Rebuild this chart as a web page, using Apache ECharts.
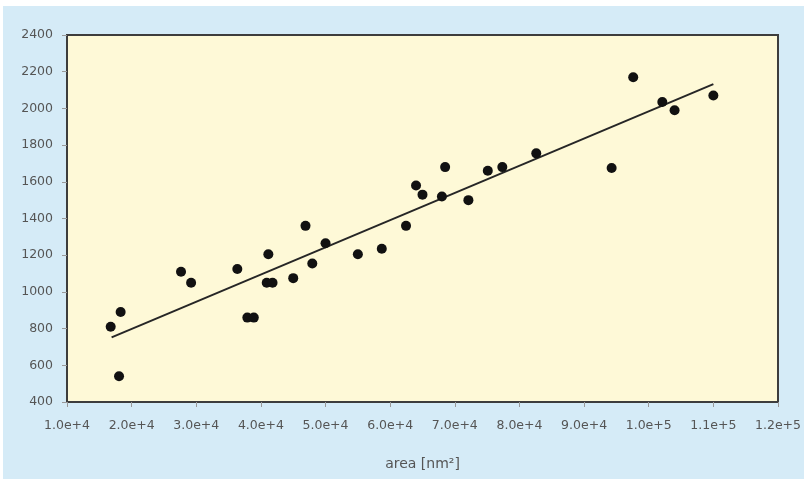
<!DOCTYPE html>
<html>
<head>
<meta charset="utf-8">
<script src="https://cdn.jsdelivr.net/npm/echarts@6/dist/echarts.min.js"></script>
<style>
  html, body { margin: 0; padding: 0; background: #ffffff; }
  #main { position: absolute; left: 3px; top: 6px; width: 801px; height: 473px; }
</style>
</head>
<body>
<div id="main"></div>
<script>
// measured points: area [nm^2] and the y value
const areaValues = [16760, 18300, 18050, 27640, 29200, 36350, 37900, 38900, 41150, 40900,
  41800, 45000, 46900, 47950, 50000, 55000, 58700, 62450, 64000, 65000,
  68500, 68000, 72100, 75100, 77350, 82600, 94260, 97600, 102100, 104000, 110000];
const yValues = [810, 890, 540, 1110, 1050, 1125, 860, 860, 1205, 1050,
  1050, 1075, 1360, 1155, 1265, 1205, 1235, 1360, 1580, 1530,
  1680, 1520, 1500, 1660, 1680, 1755, 1675, 2170, 2035, 1990, 2070];

// ends of the fitted line
const fitX = [16900, 110000];
const fitY = [752, 2132];

const xTickLabels = ['1.0e+4', '2.0e+4', '3.0e+4', '4.0e+4', '5.0e+4', '6.0e+4',
  '7.0e+4', '8.0e+4', '9.0e+4', '1.0e+5', '1.1e+5', '1.2e+5'];
const yTickLabels = ['400', '600', '800', '1000', '1200', '1400', '1600', '1800', '2000', '2200', '2400'];

const xMin = 10000, xStep = 10000;
const yMin = 400, yStep = 200;

const points = areaValues.map((a, i) => [a, yValues[i]]);
const fitPoints = fitX.map((a, i) => [a, fitY[i]]);

const labelStyle = { color: '#555', fontSize: 12.5, fontFamily: 'DejaVu Sans' };

const chart = echarts.init(document.getElementById('main'));
chart.setOption({
  backgroundColor: '#d5ebf7',
  animation: false,
  grid: {
    left: 64, top: 29, right: 26, bottom: 77,
    show: true,
    backgroundColor: '#fef9d7',
    borderColor: '#3d3d3d',
    borderWidth: 2
  },
  xAxis: {
    type: 'value',
    min: xMin,
    max: xMin + xStep * (xTickLabels.length - 1),
    interval: xStep,
    name: 'area [nm²]',
    nameLocation: 'middle',
    nameGap: 55,
    nameTextStyle: { color: '#555', fontSize: 14, fontFamily: 'DejaVu Sans' },
    axisLine: { show: false },
    axisTick: { show: true, length: 5, lineStyle: { color: '#999' } },
    axisLabel: Object.assign({
      margin: 17,
      formatter: v => xTickLabels[Math.round((v - xMin) / xStep)]
    }, labelStyle),
    splitLine: { show: false }
  },
  yAxis: {
    type: 'value',
    min: yMin,
    max: yMin + yStep * (yTickLabels.length - 1),
    interval: yStep,
    axisLine: { show: false },
    axisTick: { show: true, length: 5, lineStyle: { color: '#999' } },
    axisLabel: Object.assign({
      margin: 14,
      formatter: v => yTickLabels[Math.round((v - yMin) / yStep)]
    }, labelStyle),
    splitLine: { show: false }
  },
  series: [
    {
      type: 'line',
      data: fitPoints,
      showSymbol: false,
      symbol: 'none',
      lineStyle: { color: '#262626', width: 2 },
      z: 2
    },
    {
      type: 'scatter',
      data: points,
      symbolSize: 10,
      itemStyle: { color: '#111111', opacity: 1 },
      z: 3
    }
  ]
});
</script>
</body>
</html>
